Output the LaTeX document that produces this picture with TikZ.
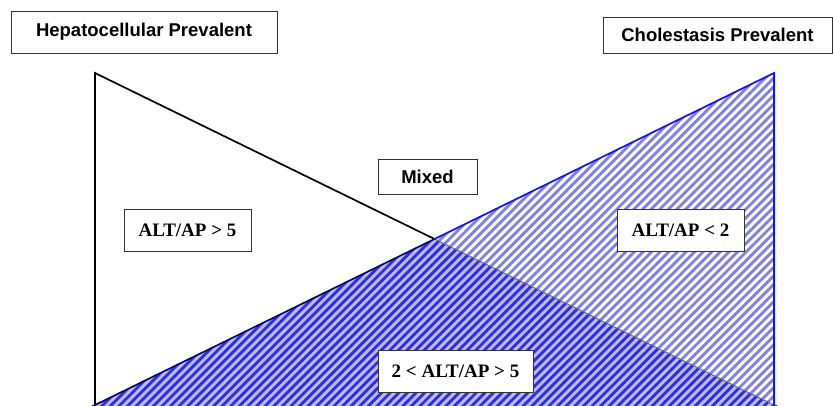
\documentclass[tikz,border=0pt]{standalone}
\usepackage{fontspec}
\setmainfont{Liberation Serif}
\setsansfont{Liberation Sans}
\definecolor{stripeLight}{RGB}{126,126,238}
\definecolor{overlapBg}{RGB}{188,188,248}
\definecolor{stripeDark}{RGB}{44,44,240}
\definecolor{edgeBlue}{RGB}{18,18,250}
\definecolor{boxEdge}{RGB}{50,50,50}
\tikzset{
  labelbox/.style={draw=boxEdge, line width=1pt, fill=white, inner sep=0pt,
    anchor=center},
  headbox/.style={labelbox, font=\sffamily\fontsize{18.5}{20}\selectfont\bfseries},
  ratiobox/.style={labelbox, font=\rmfamily\fontsize{19}{20}\selectfont\bfseries},
  edgeblack/.style={draw=black, line width=1.7pt, line join=miter},
  edgeblue/.style={draw=edgeBlue, line width=1.7pt, line join=miter},
  hatch/.style={line width=2.8pt},
}
\begin{document}
\begin{tikzpicture}[x=1pt, y=-1pt]
  \useasboundingbox (0,0) rectangle (833,405);
  \fill[white] (0,0) rectangle (833,405);

  % corners of the two triangles (the base lies just below the lower edge)
  \coordinate (hTop) at (95,73);
  \coordinate (hBot) at (95,410);
  \coordinate (cTop) at (774,73);
  \coordinate (cBot) at (784.2,410);
  \coordinate (lBot) at (84.8,410);
  \coordinate (rBot) at (774,410);
  \coordinate (cross) at (434.5,239);

  \begin{scope}
    \clip (0,0) rectangle (833,405);

    % hepatocellular triangle
    \fill[white] (hTop) -- (hBot) -- (cBot) -- cycle;
    \draw[edgeblack] (hBot) -- (hTop) -- (cBot);

    % cholestasis triangle, light hatching
    \begin{scope}
      \clip (lBot) -- (cTop) -- (rBot) -- cycle;
      \fill[white] (lBot) -- (cTop) -- (rBot) -- cycle;
      \foreach \i in {0,...,140}
        \draw[stripeLight, hatch] ({-320+8.6*\i},415) -- ++(390,-390);
    \end{scope}

    % shared region, darker hatching
    \begin{scope}
      \clip (lBot) -- (cross) -- (cBot) -- cycle;
      \fill[overlapBg] (lBot) -- (cross) -- (cBot) -- cycle;
      \foreach \i in {0,...,140}
        \draw[stripeDark, hatch] ({-320+8.6*\i},415) -- ++(390,-390);
    \end{scope}
    \draw[gray!80!black, line width=0.9pt] (cross) -- (cBot);

    \draw[edgeblue] (lBot) -- (cTop) -- (rBot);
    \draw[black, line width=0.8pt, yshift=1.2pt] (lBot) -- (cross);
  \end{scope}

  % labels
  \node[headbox, minimum width=266pt, minimum height=42pt] (hep) at (144,32)
    {Hepatocellular Prevalent};
  \node[headbox, minimum width=229pt, minimum height=36pt] (chol) at (717.5,35)
    {Cholestasis Prevalent};
  \node[headbox, minimum width=99pt, minimum height=35pt] (mixed) at (427.5,176.5)
    {Mixed};
  \node[ratiobox, minimum width=127pt, minimum height=42pt] (high) at (187.5,230)
    {ALT/AP > 5};
  \node[ratiobox, minimum width=127pt, minimum height=42pt] (low) at (680.5,230)
    {ALT/AP < 2};
  \node[ratiobox, minimum width=155pt, minimum height=42pt] (mid) at (455.5,371)
    {2 < ALT/AP > 5};
\end{tikzpicture}
\end{document}
